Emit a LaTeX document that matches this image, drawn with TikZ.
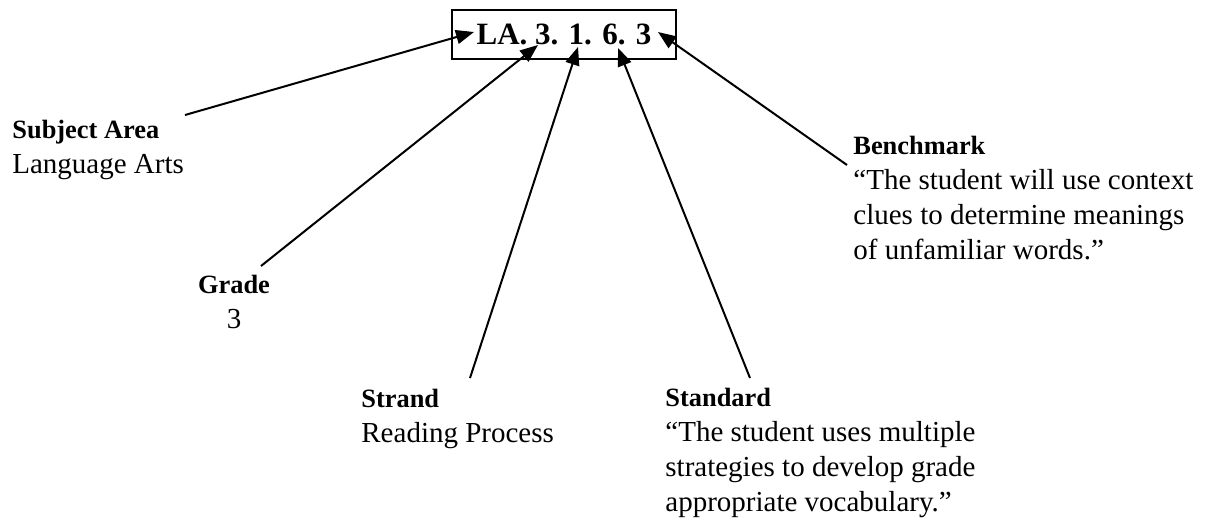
\documentclass[tikz,border=0pt]{standalone}
\usepackage{fontspec}
\setmainfont{Liberation Serif}
\usetikzlibrary{arrows.meta}
\tikzset{
  lbl/.style={align=left, anchor=base west, inner sep=0pt, font=\fontsize{14.5}{17.4}\selectfont},
  arr/.style={line width=1pt, -{Triangle[length=9pt,width=7pt]}},
}
\newcommand{\hd}[1]{{\fontsize{13.2}{17.4}\selectfont\bfseries #1}}
\begin{document}
\begin{tikzpicture}[x=0.5pt,y=-0.5pt]
\useasboundingbox (0,0) rectangle (1208,521);
\node[draw, line width=1.2pt, minimum width=112pt, minimum height=24.5pt, inner sep=0pt, font=\fontsize{15.5}{18}\selectfont] (code) at (564,34.5){\textbf{LA. 3. 1. 6. 3}};
% labels (base = last line)
\node[lbl] (subj) at (12,173){\hd{Subject Area}\\Language Arts};
\node[lbl, align=center, anchor=base] (grade) at (234,328){\hd{Grade}\\3};
\node[lbl] (strand) at (361,442){\hd{Strand}\\Reading Process};
\node[lbl] (std) at (665,511){\hd{Standard}\\“The student uses multiple\\strategies to develop grade\\appropriate vocabulary.”};
\node[lbl] (bench) at (853,259){\hd{Benchmark}\\“The student will use context\\clues to determine meanings\\of unfamiliar words.”};
% arrow ends
\coordinate (sSubj) at (185,115);
\coordinate (tSubj) at (474,32);
\coordinate (sGrade) at (261,266);
\coordinate (tGrade) at (538,45);
\coordinate (sStrand) at (470,378);
\coordinate (tStrand) at (578,47);
\coordinate (sStd) at (750,378);
\coordinate (tStd) at (618,48);
\coordinate (sBench) at (847,165);
\coordinate (tBench) at (658,32);
\draw[arr](sSubj) -- (tSubj);
\draw[arr](sGrade) -- (tGrade);
\draw[arr](sStrand) -- (tStrand);
\draw[arr](sStd) -- (tStd);
\draw[arr](sBench) -- (tBench);
\end{tikzpicture}
\end{document}
